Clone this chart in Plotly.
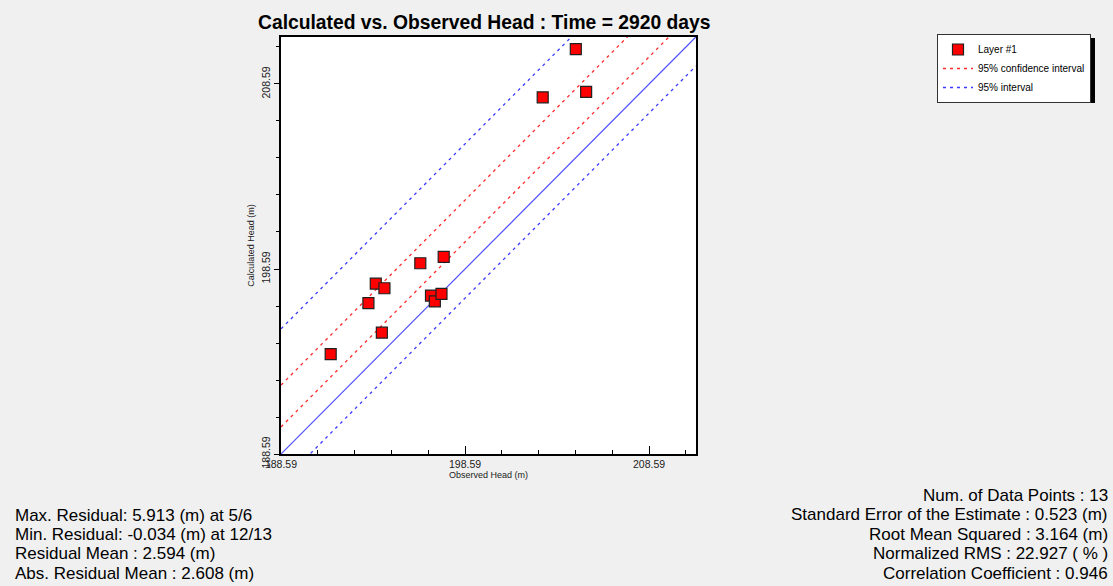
import plotly.graph_objects as go

# Observed vs calculated head for Layer #1 (m)
observed = [204.61, 202.81, 205.17, 196.16, 197.43, 193.74, 194.21, 193.34,
            196.74, 196.95, 197.31, 194.07, 191.29]
calculated = [210.48, 207.87, 208.16, 198.90, 199.25, 197.80, 197.55, 196.74,
              197.15, 196.84, 197.25, 195.15, 193.99]

# Residual statistics used for the interval bands
residual_mean = 2.594
confidence_half = 1.13
interval_half = 4.17

axis_range = [188.59, 211.14]
tick_vals = [188.59, 198.59, 208.59]
tick_text = ["188.59", "198.59", "208.59"]

left_stats = [
    "Max. Residual: 5.913 (m) at 5/6",
    "Min. Residual: -0.034 (m) at 12/13",
    "Residual Mean : 2.594 (m)",
    "Abs. Residual Mean : 2.608 (m)",
]
right_stats = [
    "Num. of Data Points : 13",
    "Standard Error of the Estimate : 0.523 (m)",
    "Root Mean Squared : 3.164 (m)",
    "Normalized RMS : 22.927 ( % )",
    "Correlation Coefficient : 0.946",
]

W, H = 1113, 586
PL, PR, PT, PB = 281, 696, 37, 454
FONT = "Liberation Sans, Arial, sans-serif"


def px(x):
    return (x - PL) / (PR - PL)


def py(y):
    return (PB - y) / (PB - PT)


fig = go.Figure()

line_x = axis_range


def band(offset):
    return [v + offset for v in line_x]


# 1:1 line
fig.add_trace(go.Scatter(x=line_x, y=band(0), mode="lines",
                         line=dict(color="#5050ff", width=1.2),
                         showlegend=False, hoverinfo="skip"))
# 95% confidence interval (red)
for i, off in enumerate([residual_mean + confidence_half, residual_mean - confidence_half]):
    fig.add_trace(go.Scatter(x=line_x, y=band(off), mode="lines",
                             line=dict(color="#ff2a2a", width=1.3, dash="3px,4px"),
                             name="95% confidence interval", legendgroup="ci",
                             showlegend=(i == 0), legendrank=2, hoverinfo="skip"))
# 95% interval (blue)
for i, off in enumerate([residual_mean + interval_half, residual_mean - interval_half]):
    fig.add_trace(go.Scatter(x=line_x, y=band(off), mode="lines",
                             line=dict(color="#3a3aff", width=1.3, dash="3px,4px"),
                             name="95% interval", legendgroup="pi",
                             showlegend=(i == 0), legendrank=3, hoverinfo="skip"))

fig.add_trace(go.Scatter(x=observed, y=calculated, mode="markers",
                         marker=dict(symbol="square", size=11, color="#ff0000",
                                     line=dict(color="#202020", width=1.2)),
                         name="Layer #1", legendrank=1, cliponaxis=False))

annotations = [
    dict(text="<b>Calculated vs. Observed Head : Time = 2920 days</b>",
         x=px(484), y=py(23), xref="paper", yref="paper", showarrow=False,
         xanchor="center", yanchor="middle",
         font=dict(family=FONT, size=19.3, color="black")),
]
for i, t in enumerate(left_stats):
    annotations.append(dict(text=t, x=px(13), y=py(515 + i * 19.4),
                            xref="paper", yref="paper", showarrow=False,
                            xanchor="left", yanchor="middle",
                            font=dict(family=FONT, size=17, color="black")))
for i, t in enumerate(right_stats):
    annotations.append(dict(text=t, x=px(1110), y=py(495 + i * 19.6),
                            xref="paper", yref="paper", showarrow=False,
                            xanchor="right", yanchor="middle",
                            font=dict(family=FONT, size=17, color="black")))

# legend drop shadow
shapes = [dict(type="rect", xref="paper", yref="paper",
               x0=px(941), x1=px(1095), y0=py(103), y1=py(38),
               fillcolor="black", line=dict(width=0), layer="below")]

fig.update_layout(
    width=W, height=H,
    margin=dict(l=PL, r=W - PR, t=PT, b=H - PB),
    paper_bgcolor="#f0f0f0", plot_bgcolor="white",
    font=dict(family=FONT, size=10, color="#222"),
    annotations=annotations, shapes=shapes,
    legend=dict(x=px(937), y=py(34), xanchor="left", yanchor="top",
                bgcolor="white", bordercolor="#333", borderwidth=1,
                font=dict(family=FONT, size=10, color="black"),
                itemwidth=30, tracegroupgap=0),
    xaxis=dict(range=axis_range, tickvals=tick_vals, ticktext=tick_text,
               ticks="inside", ticklen=8, tickcolor="black",
               minor=dict(tick0=188.59, dtick=2, ticks="inside", ticklen=4,
                          tickcolor="black"),
               showgrid=False, zeroline=False, showline=True, linecolor="black",
               linewidth=1.5, mirror=True,
               tickfont=dict(size=10.5, color="#222"),
               title=dict(text="Observed Head (m)", font=dict(size=9, color="#222"),
                          standoff=2)),
    yaxis=dict(range=[188.59, 211.13], tickvals=tick_vals, ticktext=tick_text,
               ticks="outside", ticklen=5, tickcolor="black", tickangle=-90,
               minor=dict(tick0=188.59, dtick=2, ticks="outside", ticklen=3,
                          tickcolor="black"),
               showgrid=False, zeroline=False, showline=True, linecolor="black",
               linewidth=1.5, mirror=True,
               tickfont=dict(size=10.5, color="#222"),
               title=dict(text="Calculated Head (m)", font=dict(size=9, color="#222"),
                          standoff=4)),
    showlegend=True,
)

fig.write_html("out.html")
